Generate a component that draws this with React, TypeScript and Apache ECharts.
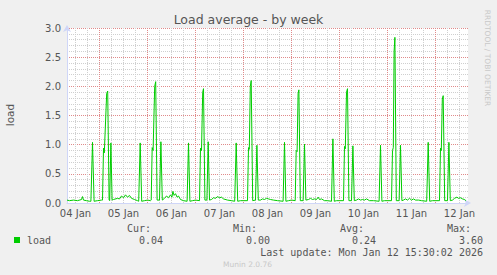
import React, { useEffect, useRef } from "react";
import * as echarts from "echarts";

// hours relative to 05 Jan 00:00
const xTickHours = [-12, 12, 36, 60, 84, 108, 132, 156, 180];
const xTickLabels = ["04 Jan", "05 Jan", "06 Jan", "07 Jan", "08 Jan", "09 Jan", "10 Jan", "11 Jan", "12 Jan"];
const xMin = -16.25;
const xMax = 184.25;
const yMin = 0;
const yMax = 3;

const seriesName = "load";
const statNames = ["Cur:", "Min:", "Avg:", "Max:"];
const statValues = ["0.04", "0.00", "0.24", "3.60"];
const lastUpdate = "Last update: Mon Jan 12 15:30:02 2026";

// [hour, load]
const loadSeries: [number, number][] = [
  [-16.25, 0.05], [-15, 0.04], [-13, 0.05], [-11, 0.04], [-9, 0.06], [-8.5, 0.11], [-8, 0.05], [-6.5, 0.04], [-5, 0.03], [-4.3, 0.03],
  [-3.5, 1.04], [-2.7, 0.03], [-1, 0.04], [1, 0.05], [1.5, 0.05],
  [2.0, 0.94], [2.4, 0.86], [3.6, 1.88], [4.1, 1.92], [4.8, 0.05], [5.1, 0.04], [5.7, 1.03], [6.3, 0.05],
  [7, 0.06], [9, 0.08], [10, 0.07], [11, 0.12], [12, 0.09], [13, 0.14], [14, 0.1], [15, 0.13], [16, 0.08], [17.5, 0.06], [19, 0.04], [19.6, 0.03],
  [20.35, 1.03], [21.1, 0.03], [22.5, 0.04], [24, 0.05], [25.5, 0.04], [25.85, 0.05],
  [26.35, 0.95], [26.8, 0.9], [27.6, 2.0], [28.1, 2.08], [28.8, 0.05], [30.0, 0.05], [30.7, 1.05], [31.4, 0.05],
  [32.5, 0.08], [33.5, 0.12], [34.5, 0.09], [35.5, 0.14], [36.2, 0.1], [36.7, 0.2], [37.3, 0.13], [38, 0.16], [38.8, 0.1], [39.5, 0.12], [40.5, 0.06], [42, 0.04], [43.8, 0.03],
  [44.5, 1.03], [45.2, 0.03], [46.5, 0.04], [48, 0.05], [50.0, 0.04],
  [50.5, 0.94], [51.0, 0.9], [51.6, 1.9], [52, 1.96], [52.7, 0.05], [53.7, 0.05], [54.35, 1.05], [55.0, 0.05],
  [56, 0.06], [57, 0.09], [58, 0.08], [59, 0.11], [60, 0.09], [61, 0.1], [62, 0.07], [64, 0.05], [66, 0.04], [67.6, 0.03],
  [68.35, 1.03], [69.1, 0.03], [70.5, 0.04], [72, 0.04], [74.0, 0.04],
  [74.5, 0.95], [74.9, 0.92], [75.4, 2.0], [75.85, 2.1], [76.6, 0.04], [78.0, 0.05], [78.7, 0.99], [79.4, 0.05],
  [80.5, 0.05], [81.5, 0.07], [82.5, 0.06], [83.5, 0.08], [84.5, 0.07], [85.5, 0.06], [87, 0.05], [89, 0.04], [91.8, 0.03],
  [92.5, 1.04], [93.2, 0.03], [94.5, 0.04], [96, 0.05], [97.85, 0.04],
  [98.35, 0.9], [98.8, 0.88], [99.3, 1.88], [99.7, 1.94], [100.4, 0.04], [101.8, 0.04], [102.5, 1.01], [103.2, 0.05],
  [104.5, 0.06], [105.5, 0.08], [106.5, 0.06], [107.5, 0.07], [108.5, 0.06], [109.35, 0.1], [110, 0.06], [111, 0.07], [112.5, 0.04], [114, 0.04], [116, 0.03],
  [116.7, 1.1], [117.4, 0.03], [118.5, 0.04], [120, 0.04], [122.0, 0.04],
  [122.5, 0.97], [122.9, 0.93], [123.5, 1.9], [124, 1.96], [124.7, 0.04], [126, 0.04], [126.7, 0.98], [127.4, 0.04],
  [128.5, 0.05], [129.5, 0.07], [130.5, 0.05], [131.5, 0.06], [132.5, 0.05], [133.5, 0.07], [135, 0.04], [137, 0.04], [139.8, 0.03],
  [140.5, 0.99], [141.2, 0.03], [142.5, 0.04], [144, 0.04], [146.0, 0.04],
  [146.5, 0.9], [146.9, 0.95], [147.3, 2.6], [147.7, 2.84], [148.4, 0.04], [149.8, 0.04], [150.5, 0.99], [151.2, 0.04],
  [152, 0.05], [153, 0.07], [154, 0.05], [155, 0.08], [156, 0.05], [157, 0.07], [158, 0.05], [159.5, 0.05], [161, 0.04], [163.6, 0.03],
  [164.35, 1.04], [165.1, 0.03], [166.5, 0.04], [168, 0.04], [170.0, 0.04],
  [170.5, 0.94], [170.9, 0.9], [171.4, 1.78], [171.85, 1.84], [172.6, 0.04], [174.0, 0.04], [174.7, 1.04], [175.4, 0.04],
  [176.5, 0.05], [177.5, 0.08], [178.7, 0.1], [179.5, 0.08], [180.5, 0.09], [181.5, 0.07], [182.5, 0.06], [183.2, 0.04],
];

const SANS = "DejaVu Sans";
const MONO = "DejaVu Sans Mono";
const TEXT = "#555";
const AXIS = "#CFD6F8";
const MAJOR = "#e08a8a";
const MINOR = "#cfcfcf";
const GREEN = "#00cc00";

export default function App() {
  const ref = useRef<HTMLDivElement>(null);
  useEffect(() => {
    if (!ref.current) return;
    const chart = echarts.init(ref.current, null, { renderer: "svg" });

    // vertical grid positions: minor every 6 hours, major at day boundaries
    const minorGrid: any[] = [];
    const majorGrid: any[] = [];
    for (let h = Math.ceil(xMin / 6) * 6; h <= xMax; h += 6) {
      if (h % 24 === 0) majorGrid.push({ xAxis: h });
      else minorGrid.push({ xAxis: h });
    }

    const monoText = (text: string, x: number, y: number, align = "left") => ({
      type: "text",
      x,
      y,
      silent: true,
      style: { text, fill: TEXT, font: `10px '${MONO}'`, align, verticalAlign: "middle" },
    });

    const graphics: any[] = [
      {
        type: "text", x: 248.5, y: 19, silent: true,
        style: { text: "Load average - by week", fill: "#555", font: `12.5px '${SANS}'`, align: "center", verticalAlign: "middle" },
      },
      {
        type: "text", x: 10, y: 115, rotation: Math.PI / 2, silent: true,
        style: { text: "load", fill: TEXT, font: `10.5px '${SANS}'`, align: "center", verticalAlign: "middle" },
      },
      {
        type: "text", x: 487, y: 58, rotation: -Math.PI / 2, silent: true,
        style: { text: "RRDTOOL / TOBI OETIKER", fill: "#c8c8c8", font: `7.5px '${SANS}'`, align: "center", verticalAlign: "middle" },
      },
      { type: "rect", shape: { x: 14, y: 237, width: 6, height: 6 }, style: { fill: GREEN }, silent: true },
      monoText(seriesName, 27, 240),
      monoText(lastUpdate, 483, 252, "right"),
      {
        type: "text", x: 247.5, y: 264, silent: true,
        style: { text: "Munin 2.0.76", fill: "#c8c8c8", font: `7.5px '${SANS}'`, align: "center", verticalAlign: "middle" },
      },
    ];
    const nameX = [127, 233, 340, 447];
    const valEndX = [163, 270, 376, 483];
    statNames.forEach((n, i) => {
      graphics.push(monoText(n, nameX[i], 228));
      graphics.push(monoText(statValues[i], valEndX[i], 240, "right"));
    });

    const gridMarkLine = (data: any[], color: string) => ({
      z: 1,
      silent: true,
      symbol: "none",
      label: { show: false },
      emphasis: { disabled: true },
      animation: false,
      precision: 4,
      lineStyle: { color, type: [1, 1], width: 1, opacity: 1 },
      data,
    });

    chart.setOption({
      animation: false,
      backgroundColor: "#f0f0f0",
      grid: {
        left: 67, top: 28, width: 401, height: 175,
        show: true, backgroundColor: "#ffffff", borderWidth: 0,
        containLabel: false,
      },
      xAxis: {
        type: "value",
        min: xMin,
        max: xMax,
        axisLine: {
          show: true, onZero: false,
          lineStyle: { color: AXIS, width: 1 },
          symbol: ["none", "arrow"], symbolSize: [6, 7], symbolOffset: [0, 3],
        },
        axisTick: { show: false },
        splitLine: { show: false },
        axisLabel: {
          show: true,
          customValues: xTickHours,
          margin: 5,
          color: TEXT,
          fontFamily: SANS,
          fontSize: 10,
          formatter: (v: number) => {
            const i = xTickHours.indexOf(v);
            return i >= 0 ? xTickLabels[i] : "";
          },
        },
      },
      yAxis: {
        type: "value",
        min: yMin,
        max: yMax,
        interval: 0.5,
        axisLine: {
          show: true, onZero: false,
          lineStyle: { color: AXIS, width: 1 },
          symbol: ["none", "arrow"], symbolSize: [6, 7], symbolOffset: [0, 3],
        },
        axisTick: { show: false },
        axisLabel: {
          color: TEXT, fontFamily: SANS, fontSize: 10, margin: 6,
          formatter: (v: number) => v.toFixed(1),
        },
        splitLine: { show: true, lineStyle: { color: MAJOR, type: [1, 1], width: 1 } },
        minorTick: { show: false, splitNumber: 5 },
        minorSplitLine: { show: true, lineStyle: { color: MINOR, type: [1, 1], width: 1 } },
      },
      series: [
        {
          // carries the minor vertical grid lines only; its line is invisible
          type: "line",
          data: loadSeries,
          z: 1,
          silent: true,
          symbol: "none",
          showSymbol: false,
          lineStyle: { opacity: 0 },
          tooltip: { show: false },
          markLine: gridMarkLine(minorGrid, MINOR),
        },
        {
          name: seriesName,
          type: "line",
          data: loadSeries,
          z: 3,
          symbol: "none",
          showSymbol: false,
          lineStyle: { color: GREEN, width: 1 },
          itemStyle: { color: GREEN },
          markLine: gridMarkLine(majorGrid, MAJOR),
        },
      ],
      graphic: graphics,
    });
    return () => chart.dispose();
  }, []);
  return (
    <div
      ref={ref}
      style={{ position: "absolute", left: 0, top: 0, width: 497, height: 275 }}
    />
  );
}
